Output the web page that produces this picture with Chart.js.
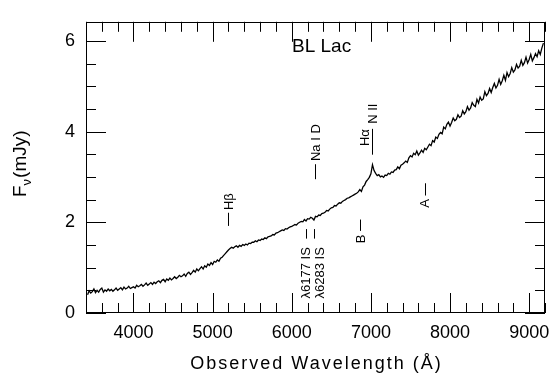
<!DOCTYPE html>
<html>
<head>
<meta charset="utf-8">
<script src="https://cdn.jsdelivr.net/npm/chart.js@4.4.1/dist/chart.umd.min.js"></script>
<style>
  html, body { margin: 0; padding: 0; background: #fff; }
  #wrap { width: 555px; height: 377px; }
</style>
</head>
<body>
<div id="wrap"><canvas id="c" width="555" height="377"></canvas></div>
<script>
// ---- data ----
const wavelengths = [
  3420,3440,3460,3480,3500,3520,3540,3560,3580,3600,3620,3640,3660,3680,3700,
  3720,3740,3760,3780,3800,3820,3840,3860,3880,3900,3920,3940,3960,3980,4000,
  4020,4040,4060,4080,4100,4120,4140,4160,4180,4200,4220,4240,4260,4280,4300,
  4320,4340,4360,4380,4400,4420,4440,4460,4480,4500,4520,4540,4560,4580,4600,
  4620,4640,4660,4680,4700,4720,4740,4760,4780,4800,4820,4840,4860,4880,4900,
  4920,4940,4960,4980,5000,5020,5040,5060,5080,5100,5120,5140,5160,5180,5200,
  5220,5240,5260,5280,5300,5320,5340,5360,5380,5400,5420,5440,5460,5480,5500,
  5520,5540,5560,5580,5600,5620,5640,5660,5680,5700,5720,5740,5760,5780,5800,
  5820,5840,5860,5880,5900,5920,5940,5960,5980,6000,6020,6040,6060,6080,6100,
  6120,6140,6160,6180,6200,6220,6240,6260,6280,6300,6320,6340,6360,6380,6400,
  6420,6440,6460,6480,6500,6520,6540,6560,6580,6600,6620,6640,6660,6680,6700,
  6720,6740,6760,6780,6800,6820,6840,6860,6880,6900,6920,6940,6960,6980,7000,
  7020,7040,7060,7080,7100,7120,7140,7160,7180,7200,7220,7240,7260,7280,7300,
  7320,7340,7360,7380,7400,7420,7440,7460,7480,7500,7520,7540,7560,7580,7600,
  7620,7640,7660,7680,7700,7720,7740,7760,7780,7800,7820,7840,7860,7880,7900,
  7920,7940,7960,7980,8000,8020,8040,8060,8080,8100,8120,8140,8160,8180,8200,
  8220,8240,8260,8280,8300,8320,8340,8360,8380,8400,8420,8440,8460,8480,8500,
  8520,8540,8560,8580,8600,8620,8640,8660,8680,8700,8720,8740,8760,8780,8800,
  8820,8840,8860,8880,8900,8920,8940,8960,8980,9000,9020,9040,9060,9080,9100,
  9120,9140,9160,9180
];
const fluxMJy = [
  0.40,0.49,0.44,0.47,0.53,0.45,0.50,0.46,0.52,0.55,0.46,0.51,0.48,0.53,0.49,
  0.52,0.48,0.51,0.55,0.50,0.53,0.56,0.51,0.57,0.53,0.55,0.59,0.54,0.56,0.58,
  0.55,0.61,0.58,0.60,0.63,0.59,0.62,0.66,0.61,0.64,0.67,0.63,0.68,0.65,0.69,
  0.71,0.67,0.72,0.74,0.69,0.75,0.72,0.77,0.73,0.76,0.80,0.76,0.79,0.83,0.80,
  0.82,0.86,0.81,0.87,0.90,0.85,0.89,0.94,0.90,0.97,0.93,0.98,1.02,0.97,1.04,
  1.01,1.08,1.05,1.11,1.07,1.14,1.12,1.17,1.14,1.21,1.23,1.27,1.31,1.35,1.39,
  1.42,1.45,1.43,1.46,1.48,1.45,1.49,1.47,1.51,1.49,1.52,1.50,1.54,1.53,1.56,
  1.56,1.59,1.57,1.61,1.60,1.63,1.62,1.66,1.64,1.68,1.69,1.70,1.73,1.72,1.76,
  1.77,1.79,1.81,1.83,1.82,1.86,1.85,1.88,1.90,1.91,1.93,1.95,1.94,1.98,2.00,
  2.02,2.01,2.06,2.03,2.08,2.07,2.11,2.09,2.05,2.13,2.12,2.16,2.15,2.19,2.20,
  2.22,2.26,2.25,2.29,2.32,2.33,2.37,2.36,2.40,2.43,2.42,2.46,2.48,2.50,2.53,
  2.54,2.56,2.58,2.60,2.62,2.64,2.67,2.72,2.68,2.78,2.82,2.90,2.94,2.99,3.07,
  3.27,3.14,3.08,3.03,3.05,3.00,3.02,2.99,3.04,3.03,3.08,3.06,3.11,3.10,3.15,
  3.16,3.22,3.18,3.26,3.28,3.31,3.35,3.32,3.42,3.47,3.44,3.52,3.49,3.57,3.48,
  3.53,3.59,3.54,3.63,3.60,3.66,3.72,3.69,3.80,3.77,3.88,3.85,3.94,3.98,3.95,
  4.10,4.06,4.16,4.21,4.12,4.20,4.30,4.24,4.27,4.37,4.31,4.34,4.46,4.39,4.44,
  4.55,4.47,4.52,4.64,4.58,4.55,4.71,4.63,4.76,4.69,4.72,4.88,4.79,4.84,4.95,
  4.86,4.97,5.06,4.96,5.02,5.15,5.04,5.12,5.24,5.13,5.30,5.21,5.28,5.41,5.31,
  5.36,5.48,5.40,5.44,5.57,5.46,5.52,5.64,5.51,5.59,5.70,5.56,5.63,5.72,5.65,
  5.78,5.70,5.84,5.95
];
const xMajorLabels = [4000, 5000, 6000, 7000, 8000, 9000];
const yMajorLabels = [0, 2, 4, 6];

// line identifications: label, marked wavelength, label column wavelength,
// where the rotated text starts (flux units), marker line span (flux units)
const lineLabels   = ['H\u03B2', 'Na I D', 'H\u03B1', 'N II', 'A', 'B', '\u03BB6177 IS', '\u03BB6283 IS'];
const lineWaves    = [5198, 6295, 6913, 7020, 7682, 6862, 6177, 6283];
const textWaves    = [5198, 6295, 6913, 7020, 7682, 6862, 6177, 6350];
const labelStart   = [2.27, 3.35, 3.68, 4.17, 2.32, 1.54, 0.32, 0.32];
const markLow      = [1.92, 2.95, null, 3.49, 2.59, 1.81, 1.64, 1.64];
const markHigh     = [2.21, 3.28, null, 4.06, 2.86, 2.06, 1.85, 1.85];

const FONT = '"Liberation Sans", Arial, Helvetica, sans-serif';

const decor = {
  id: 'decor',
  afterDraw(chart) {
    const ctx = chart.ctx;
    const a = chart.chartArea;
    const xs = chart.scales.x, ys = chart.scales.y;
    ctx.save();
    ctx.strokeStyle = '#000';
    ctx.lineWidth = 1;
    // frame
    ctx.strokeRect(Math.round(a.left) + 0.5, Math.round(a.top) + 0.5,
                   Math.round(a.right - a.left) - 1, Math.round(a.bottom - a.top) - 1);
    // inward ticks
    ctx.beginPath();
    xs.ticks.forEach(t => {
      const v = t.value;
      if (Math.abs(v / 200 - Math.round(v / 200)) > 1e-6) return;
      const len = (v % 1000 === 0) ? 20 : 10;
      const p = Math.round(xs.getPixelForValue(v)) + 0.5;
      ctx.moveTo(p, a.bottom); ctx.lineTo(p, a.bottom - len);
      ctx.moveTo(p, a.top); ctx.lineTo(p, a.top + len);
    });
    ys.ticks.forEach(t => {
      const v = t.value;
      if (Math.abs(v * 2 - Math.round(v * 2)) > 1e-6) return;
      const len = (Math.round(v * 2) % 4 === 0) ? 20 : 10;
      const p = Math.round(ys.getPixelForValue(v)) + 0.5;
      ctx.moveTo(a.left, p); ctx.lineTo(a.left + len, p);
      ctx.moveTo(a.right, p); ctx.lineTo(a.right - len, p);
    });
    ctx.stroke();

    // line identifications
    ctx.fillStyle = '#000';
    ctx.font = '13px ' + FONT;
    ctx.textBaseline = 'middle';
    ctx.textAlign = 'left';
    lineLabels.forEach((lab, i) => {
      const px = xs.getPixelForValue(lineWaves[i]);
      if (markLow[i] !== null) {
        ctx.beginPath();
        ctx.moveTo(Math.round(px) + 0.5, ys.getPixelForValue(markLow[i]));
        ctx.lineTo(Math.round(px) + 0.5, ys.getPixelForValue(markHigh[i]));
        ctx.stroke();
      }
      ctx.save();
      ctx.translate(xs.getPixelForValue(textWaves[i]) + 1, ys.getPixelForValue(labelStart[i]));
      ctx.rotate(-Math.PI / 2);
      ctx.fillText(lab, 0, 0);
      ctx.restore();
    });

    // object name
    ctx.font = '19px ' + FONT;
    ctx.textBaseline = 'alphabetic';
    ctx.fillText('BL Lac', 292, 52);

    // x title (centred under the plot)
    ctx.font = '18px ' + FONT;
    ctx.letterSpacing = '2px';
    ctx.textAlign = 'center';
    ctx.fillText('Observed Wavelength (\u00C5)', (a.left + a.right) / 2 + 1, 369);
    ctx.letterSpacing = '0px';
    ctx.textAlign = 'left';

    // y title  F_nu (mJy)
    ctx.save();
    ctx.translate(26, 197);
    ctx.rotate(-Math.PI / 2);
    ctx.font = '19px ' + FONT;
    ctx.fillText('F', 0, 0);
    let w = ctx.measureText('F').width;
    ctx.font = '13px ' + FONT;
    ctx.fillText('\u03BD', w, 5);
    w += ctx.measureText('\u03BD').width + 1;
    ctx.font = '19px ' + FONT;
    ctx.fillText('(mJy)', w, 0);
    ctx.restore();
    ctx.restore();
  }
};

new Chart(document.getElementById('c'), {
  type: 'line',
  data: {
    datasets: [{
      data: wavelengths.map((w, i) => ({ x: w, y: fluxMJy[i] })),
      borderColor: '#000',
      borderWidth: 1.3,
      pointRadius: 0,
      tension: 0,
      fill: false
    }]
  },
  options: {
    responsive: false,
    devicePixelRatio: 1,
    animation: false,
    layout: { padding: { left: 0, right: 10, top: 8, bottom: 0 } },
    plugins: { legend: { display: false }, tooltip: { enabled: false } },
    scales: {
      x: {
        type: 'linear',
        min: 3400, max: 9200,
        afterFit(s) { s.height = 64; },
        grid: { display: false, drawTicks: false },
        border: { display: false },
        ticks: {
          stepSize: 200, includeBounds: false, autoSkip: false, maxRotation: 0, minRotation: 0,
          padding: 9, color: '#000',
          font: { family: FONT, size: 18 },
          callback: v => xMajorLabels.includes(v) ? String(v) : ''
        }
      },
      y: {
        min: 0, max: 6.42,
        afterFit(s) { s.width = 86; },
        grid: { display: false, drawTicks: false },
        border: { display: false },
        ticks: {
          stepSize: 0.5, includeBounds: false, autoSkip: false, padding: 11, color: '#000',
          font: { family: FONT, size: 18 },
          callback: v => yMajorLabels.includes(v) ? String(v) : ''
        }
      }
    }
  },
  plugins: [decor]
});
</script>
</body>
</html>
